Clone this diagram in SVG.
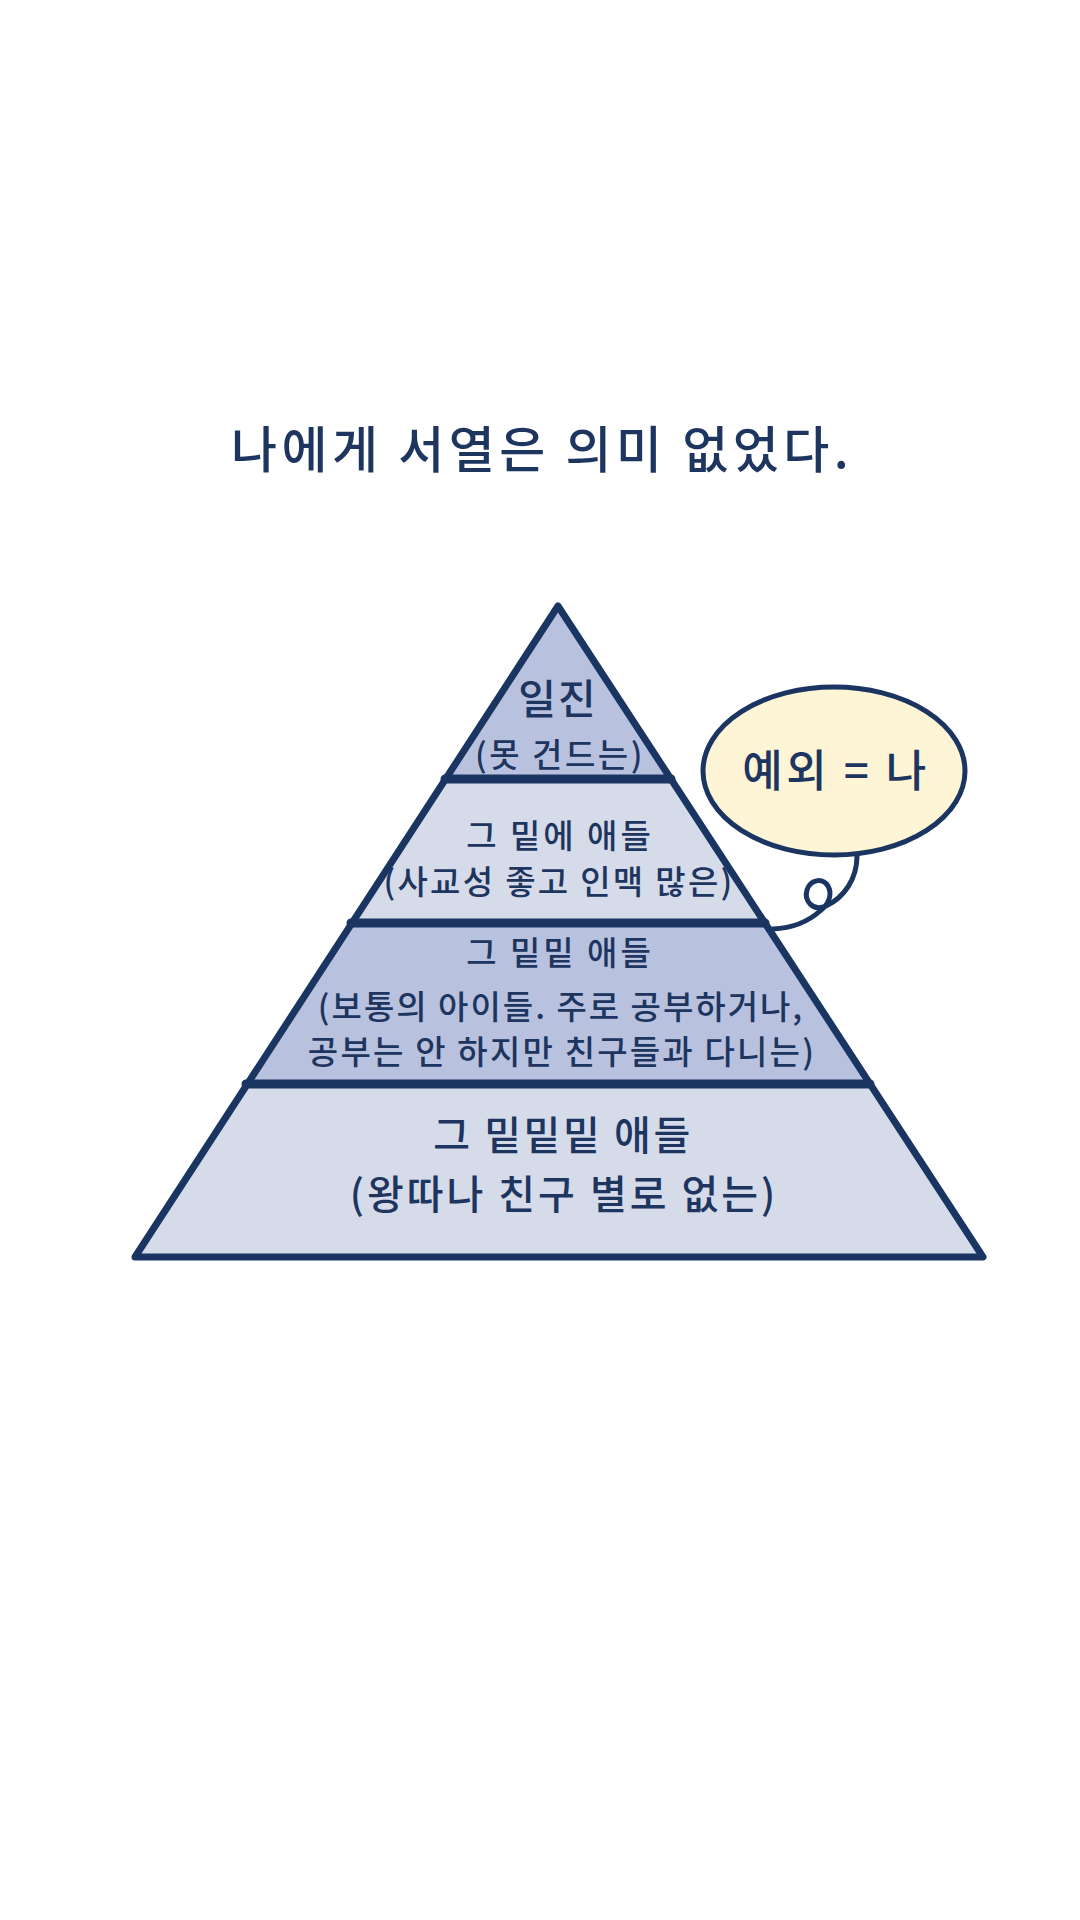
<svg xmlns="http://www.w3.org/2000/svg" width="1080" height="1920" viewBox="0 0 1080 1920">
<style>
.t{font-family:"Noto Sans CJK KR","Noto Sans",sans-serif;fill:#1d355f;text-anchor:middle;font-weight:500}
.dark{fill:#b8c2de}
.light{fill:#d6dbe9}
.ln{stroke:#1b3563;stroke-linecap:round;stroke-linejoin:round;fill:none}
</style>
<rect width="1080" height="1920" fill="#ffffff"/>
<text id="title" class="t" x="542" y="468" font-size="50" letter-spacing="4.5">나에게 서열은 의미 없었다.</text>

<g id="layer1">
<polygon class="dark" points="558,606 445.5,779 670.5,779"/>
<text class="t" x="558" y="714" font-size="41" letter-spacing="2">일진</text>
<text class="t" x="560" y="767" font-size="33" letter-spacing="2.5">(못 건드는)</text>
</g>
<g id="layer2">
<polygon class="light" points="445.5,779 670.5,779 764,923 352,923"/>
<text class="t" x="560" y="848" font-size="33" letter-spacing="3">그 밑에 애들</text>
<text class="t" x="559" y="894" font-size="33" letter-spacing="2.3">(사교성 좋고 인맥 많은)</text>
</g>
<g id="layer3">
<polygon class="dark" points="352,923 764,923 869,1084 247,1084"/>
<text class="t" x="560" y="965" font-size="33" letter-spacing="3">그 밑밑 애들</text>
<text class="t" x="561" y="1019" font-size="33" letter-spacing="2">(보통의 아이들. 주로 공부하거나,</text>
<text class="t" x="562" y="1064" font-size="33" letter-spacing="2.2">공부는 안 하지만 친구들과 다니는)</text>
</g>
<g id="layer4">
<polygon class="light" points="247,1084 869,1084 983,1257 135,1257"/>
<text class="t" x="563" y="1150" font-size="40" letter-spacing="2.6">그 밑밑밑 애들</text>
<text class="t" x="564" y="1209" font-size="40" letter-spacing="3">(왕따나 친구 별로 없는)</text>
</g>
<g id="pyramid-outline">
<polygon class="ln" points="558,606 983,1257 135,1257" stroke-width="7"/>
<line class="ln" x1="445" y1="779" x2="671" y2="779" stroke-width="9"/>
<line class="ln" x1="351" y1="923" x2="765" y2="923" stroke-width="9"/>
<line class="ln" x1="246" y1="1084" x2="870" y2="1084" stroke-width="9"/>
</g>

<g id="connectors">
<path class="ln" stroke-width="5" d="M857,856 C857,878 845,897 826,906 C812,912 804,900 807,890 C810,880 822,877 828,886 C833,895 828,905 820,911 C810,920 795,928 773,929"/>
</g>

<g id="bubble">
<ellipse cx="834" cy="771" rx="131" ry="84" fill="#fdf5d5" stroke="#1b3563" stroke-width="5"/>
<text class="t" x="836" y="787" font-size="44" letter-spacing="3.5">예외 = 나</text>
</g>
</svg>
